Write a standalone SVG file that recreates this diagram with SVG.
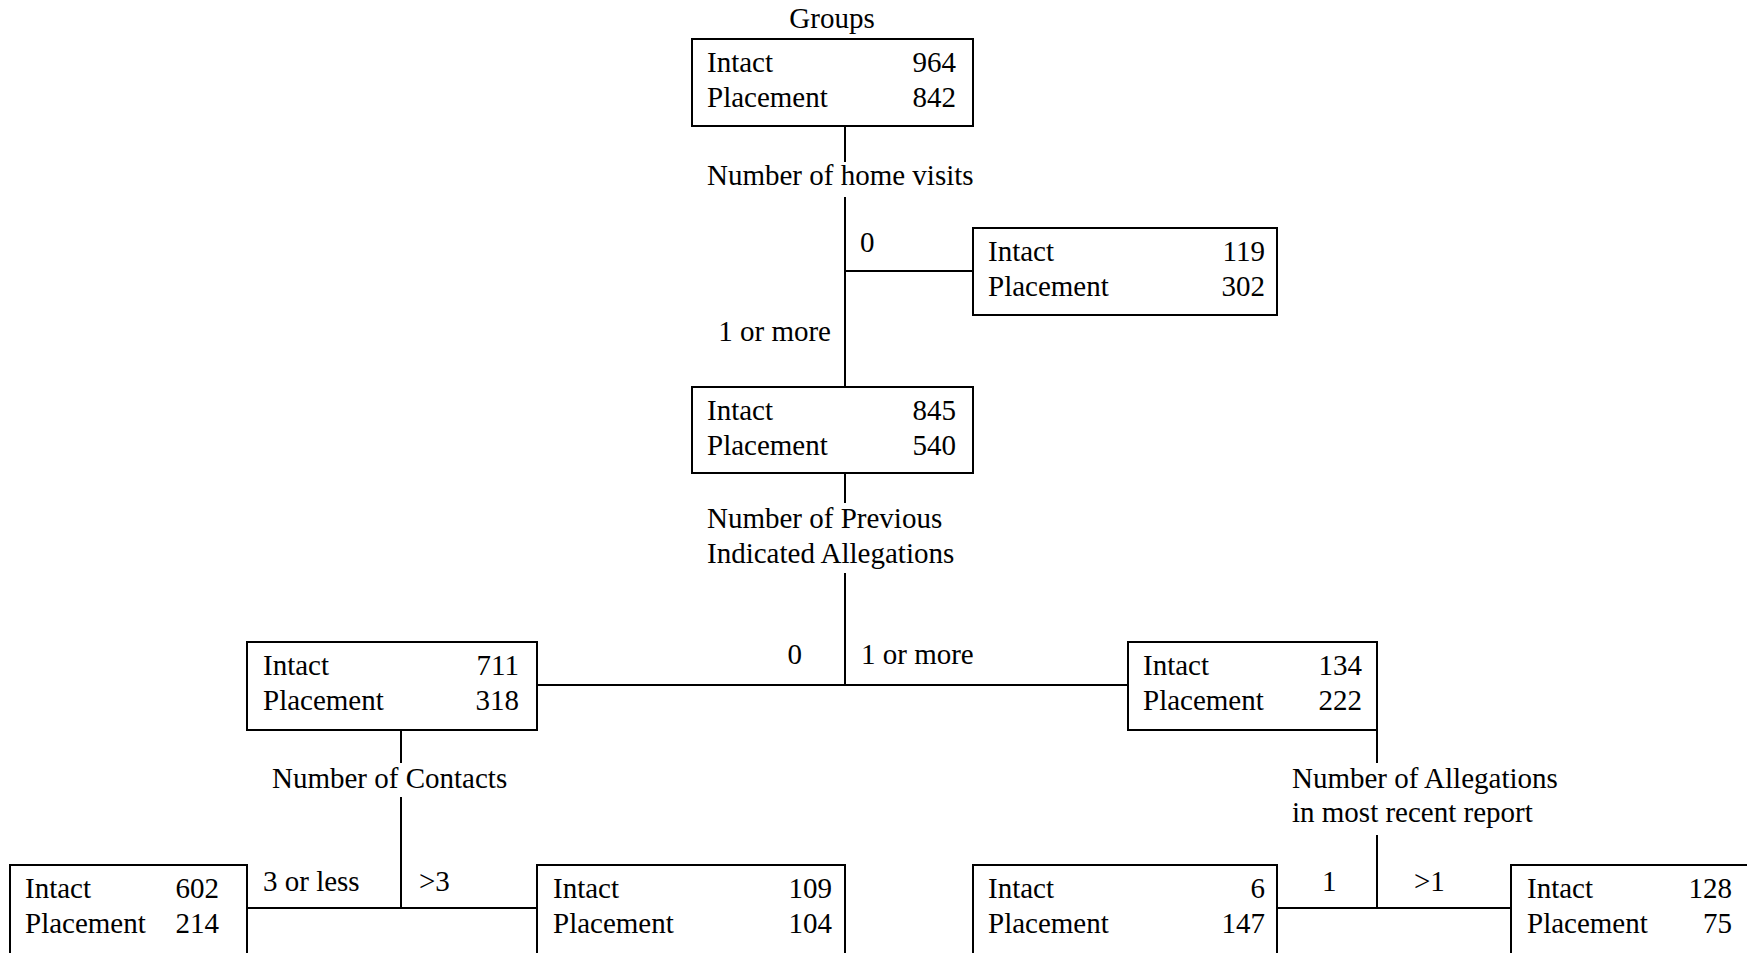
<svg xmlns="http://www.w3.org/2000/svg" width="1747" height="953" viewBox="0 0 1747 953">
<style>
text{font-family:"Liberation Serif","Times New Roman",serif;font-size:29px;fill:#000}
.n{text-anchor:end}
rect{fill:#fff;stroke:#000;stroke-width:2}
line{stroke:#000;stroke-width:2}
</style>
<rect x="0" y="0" width="1747" height="953" style="stroke:none"/>
<g id="connectors">
<line x1="845" y1="126" x2="845" y2="162"/>
<line x1="845" y1="197" x2="845" y2="387"/>
<line x1="845" y1="271" x2="973" y2="271"/>
<line x1="845" y1="471" x2="845" y2="503"/>
<line x1="845" y1="573" x2="845" y2="685"/>
<line x1="537" y1="685" x2="1128" y2="685"/>
<line x1="401" y1="730" x2="401" y2="763"/>
<line x1="401" y1="797" x2="401" y2="908"/>
<line x1="247" y1="908" x2="537" y2="908"/>
<line x1="1377" y1="730" x2="1377" y2="763"/>
<line x1="1377" y1="835" x2="1377" y2="908"/>
<line x1="1277" y1="908" x2="1511" y2="908"/>
<text x="707" y="185">Number of home visits</text>
<text x="860" y="252">0</text>
<text x="831" y="341" class="n">1 or more</text>
<text x="707" y="528">Number of Previous</text>
<text x="707" y="563">Indicated Allegations</text>
<text x="802" y="664" class="n">0</text>
<text x="861" y="664">1 or more</text>
<text x="272" y="788">Number of Contacts</text>
<text x="1292" y="788">Number of Allegations</text>
<text x="1292" y="822">in most recent report</text>
<text x="263" y="891">3 or less</text>
<text x="419" y="891">&gt;3</text>
<text x="1322" y="891">1</text>
<text x="1414" y="891">&gt;1</text>
</g>
<g id="root">
<text x="832" y="28" text-anchor="middle">Groups</text>
<rect x="692" y="39" width="281" height="87"/>
<text x="707" y="72">Intact</text><text x="956" y="72" class="n">964</text>
<text x="707" y="107">Placement</text><text x="956" y="107" class="n">842</text>
</g>
<g id="home0">
<rect x="973" y="228" width="304" height="87"/>
<text x="988" y="261">Intact</text><text x="1265" y="261" class="n">119</text>
<text x="988" y="296">Placement</text><text x="1265" y="296" class="n">302</text>
</g>
<g id="home1">
<rect x="692" y="387" width="281" height="86"/>
<text x="707" y="420">Intact</text><text x="956" y="420" class="n">845</text>
<text x="707" y="455">Placement</text><text x="956" y="455" class="n">540</text>
</g>
<g id="prev0">
<rect x="247" y="642" width="290" height="88"/>
<text x="263" y="675">Intact</text><text x="519" y="675" class="n">711</text>
<text x="263" y="710">Placement</text><text x="519" y="710" class="n">318</text>
</g>
<g id="prev1">
<rect x="1128" y="642" width="249" height="88"/>
<text x="1143" y="675">Intact</text><text x="1362" y="675" class="n">134</text>
<text x="1143" y="710">Placement</text><text x="1362" y="710" class="n">222</text>
</g>
<g id="contacts3">
<rect x="10" y="865" width="237" height="120"/>
<text x="25" y="898">Intact</text><text x="219" y="898" class="n">602</text>
<text x="25" y="933">Placement</text><text x="219" y="933" class="n">214</text>
</g>
<g id="contactsMore">
<rect x="537" y="865" width="308" height="120"/>
<text x="553" y="898">Intact</text><text x="832" y="898" class="n">109</text>
<text x="553" y="933">Placement</text><text x="832" y="933" class="n">104</text>
</g>
<g id="alleg1">
<rect x="973" y="865" width="304" height="120"/>
<text x="988" y="898">Intact</text><text x="1265" y="898" class="n">6</text>
<text x="988" y="933">Placement</text><text x="1265" y="933" class="n">147</text>
</g>
<g id="allegMore">
<rect x="1511" y="865" width="260" height="120"/>
<text x="1527" y="898">Intact</text><text x="1732" y="898" class="n">128</text>
<text x="1527" y="933">Placement</text><text x="1732" y="933" class="n">75</text>
</g>
</svg>
